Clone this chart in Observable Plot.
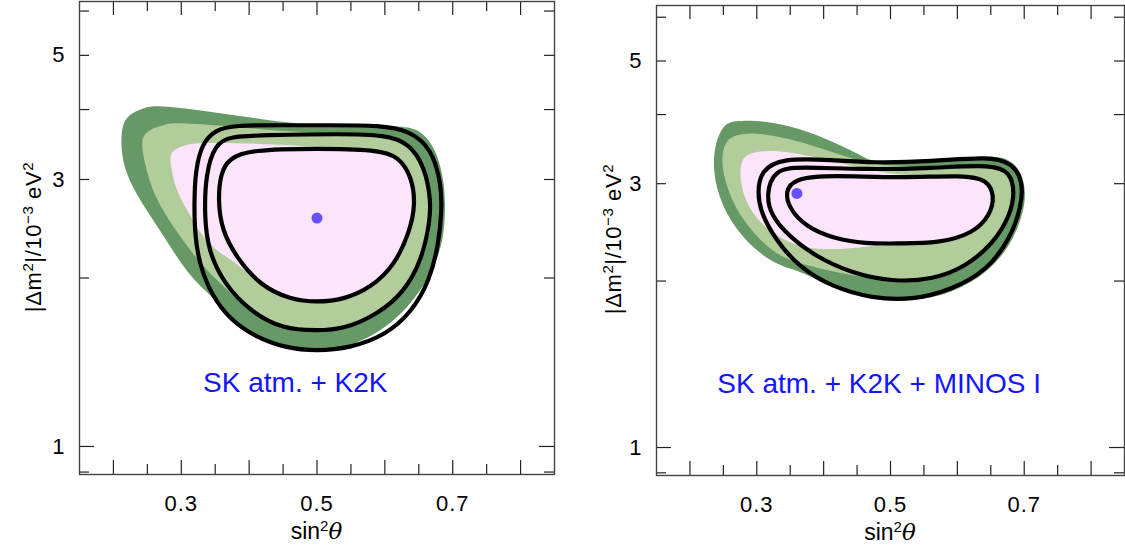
<!DOCTYPE html>
<html><head><meta charset="utf-8">
<script src="https://cdn.jsdelivr.net/npm/d3@7"></script>
<script src="https://cdn.jsdelivr.net/npm/@observablehq/plot@0.6"></script>
<style>
body{margin:0;background:#fff;}
#wrap{display:flex;width:1125px;height:552px;overflow:hidden;}
</style></head><body><div id="wrap"></div>
<script>
// ---- axis data ----
const xTicksMajor = [0.2, 0.3, 0.4, 0.5, 0.6, 0.7, 0.8];
const xTicksMinor = [0.25, 0.35, 0.45, 0.55, 0.65, 0.75];
const xTickLabels = [0.3, 0.5, 0.7];
const yTicksMajor = [1];
const yTicksMinor = [0.9, 2, 3, 4, 5, 6];
const yTickLabels = [1, 3, 5];
const panelLabels = ["SK atm. + K2K", "SK atm. + K2K + MINOS I"];

// ---- left panel: SK atm + K2K (sin^2 theta, |dm^2| in 1e-3 eV^2) ----
const leftBest = [[0.5, 2.56]];
const leftDark = [[0.244,4.02],[0.259,4.08],[0.328,3.99],[0.402,3.87],[0.475,3.76],[0.549,3.74],[0.627,3.74],[0.652,3.68],[0.675,3.42],[0.689,2.95],[0.689,2.50],[0.682,2.22],[0.659,1.94],[0.625,1.72],[0.579,1.56],[0.520,1.475],[0.460,1.485],[0.405,1.565],[0.372,1.72],[0.335,1.90],[0.306,2.06],[0.269,2.43],[0.239,2.75],[0.218,3.08],[0.211,3.38],[0.212,3.74],[0.222,3.92]];
const leftLight = [[0.250,3.67],[0.276,3.77],[0.298,3.79],[0.376,3.73],[0.446,3.66],[0.520,3.62],[0.600,3.61],[0.636,3.50],[0.660,3.16],[0.670,2.75],[0.669,2.50],[0.656,2.13],[0.631,1.88],[0.590,1.71],[0.539,1.615],[0.500,1.60],[0.450,1.615],[0.402,1.73],[0.365,1.92],[0.338,2.06],[0.309,2.27],[0.269,2.67],[0.252,2.99],[0.242,3.38],[0.242,3.56]];
const leftPink = [[0.286,3.38],[0.309,3.48],[0.338,3.49],[0.416,3.48],[0.500,3.43],[0.589,3.39],[0.620,3.30],[0.640,3.03],[0.645,2.70],[0.637,2.43],[0.615,2.11],[0.579,1.92],[0.539,1.83],[0.500,1.81],[0.461,1.83],[0.416,1.94],[0.382,2.13],[0.350,2.24],[0.328,2.40],[0.309,2.64],[0.292,2.87],[0.285,3.15],[0.283,3.28]];
const leftOuter = [[0.319,2.75],[0.321,3.11],[0.330,3.47],[0.350,3.68],[0.379,3.75],[0.446,3.75],[0.520,3.75],[0.593,3.75],[0.636,3.67],[0.669,3.41],[0.683,2.95],[0.684,2.64],[0.679,2.29],[0.666,1.98],[0.640,1.74],[0.601,1.58],[0.549,1.50],[0.500,1.48],[0.453,1.50],[0.409,1.57],[0.372,1.685],[0.345,1.86],[0.327,2.11],[0.320,2.38]];
const leftMid = [[0.334,2.57],[0.336,3.08],[0.350,3.47],[0.372,3.58],[0.420,3.60],[0.539,3.62],[0.600,3.60],[0.635,3.49],[0.659,3.16],[0.668,2.75],[0.666,2.50],[0.654,2.15],[0.629,1.89],[0.589,1.72],[0.539,1.62],[0.500,1.61],[0.450,1.62],[0.402,1.74],[0.362,1.96],[0.340,2.24]];
const leftInner = [[0.354,2.75],[0.358,3.08],[0.370,3.27],[0.402,3.39],[0.500,3.41],[0.589,3.39],[0.620,3.30],[0.640,3.03],[0.645,2.70],[0.637,2.43],[0.615,2.11],[0.579,1.92],[0.539,1.83],[0.500,1.81],[0.461,1.83],[0.416,1.94],[0.382,2.17],[0.360,2.43]];

// ---- right panel: SK atm + K2K + MINOS I ----
const rightBest = [[0.36, 2.88]];
const rightDark = [[0.252,3.88],[0.274,3.90],[0.313,3.90],[0.363,3.78],[0.413,3.58],[0.463,3.34],[0.473,3.28],[0.562,3.30],[0.652,3.38],[0.679,3.32],[0.696,3.15],[0.703,2.89],[0.698,2.63],[0.679,2.31],[0.644,2.065],[0.592,1.90],[0.532,1.835],[0.473,1.847],[0.413,1.95],[0.363,2.09],[0.338,2.12],[0.303,2.245],[0.272,2.45],[0.247,2.74],[0.234,3.15],[0.237,3.55]];
const rightLight = [[0.274,3.70],[0.308,3.70],[0.358,3.60],[0.433,3.36],[0.468,3.25],[0.562,3.20],[0.652,3.25],[0.679,3.15],[0.686,2.89],[0.679,2.63],[0.654,2.34],[0.612,2.12],[0.562,2.01],[0.502,1.995],[0.443,2.045],[0.388,2.115],[0.353,2.17],[0.323,2.26],[0.291,2.47],[0.267,2.72],[0.252,3.04],[0.247,3.30],[0.252,3.60]];
const rightPink = [[0.277,3.36],[0.299,3.43],[0.333,3.45],[0.383,3.36],[0.423,3.27],[0.468,3.18],[0.512,3.10],[0.612,3.11],[0.644,3.05],[0.656,2.855],[0.649,2.63],[0.624,2.44],[0.572,2.34],[0.512,2.34],[0.453,2.30],[0.413,2.28],[0.373,2.29],[0.333,2.39],[0.301,2.57],[0.282,2.80],[0.274,3.08]];
const rightOuter = [[0.306,3.17],[0.338,3.34],[0.413,3.31],[0.473,3.27],[0.562,3.29],[0.647,3.36],[0.683,3.27],[0.698,3.02],[0.696,2.74],[0.679,2.38],[0.644,2.09],[0.592,1.93],[0.532,1.847],[0.473,1.86],[0.413,1.95],[0.363,2.12],[0.328,2.375],[0.306,2.66],[0.301,2.89]];
const rightMid = [[0.326,3.18],[0.363,3.22],[0.463,3.18],[0.562,3.20],[0.652,3.25],[0.679,3.15],[0.686,2.89],[0.679,2.63],[0.654,2.34],[0.612,2.12],[0.562,2.01],[0.502,1.995],[0.443,2.065],[0.388,2.215],[0.348,2.41],[0.321,2.63],[0.314,2.87]];
const rightInner = [[0.356,3.07],[0.413,3.11],[0.512,3.07],[0.612,3.11],[0.644,3.05],[0.656,2.855],[0.649,2.63],[0.624,2.44],[0.572,2.34],[0.512,2.34],[0.463,2.335],[0.413,2.39],[0.373,2.51],[0.349,2.70],[0.342,2.90]];

const C = {dark: "#669966", light: "#b3cc9c", pink: "#fce4fb", dot: "#6650ff", text: "#1414ff", frame: "#444"};
const FONT = "Liberation Sans, Arial, Helvetica, sans-serif";
const X = d => d[0], Y = d => d[1];

function panel(o) {
  const H = 552;
  const iw = o.width - o.marginLeft - o.marginRight;
  const ih = H - o.marginTop - o.marginBottom;
  const fillMark = (data, fill) => Plot.line(data, {x: X, y: Y, fill, stroke: "none", curve: "basis-closed"});
  const lineMark = data => Plot.line(data, {x: X, y: Y, stroke: "#000", strokeWidth: 4.2, curve: "basis-closed"});
  const tickStyle = {stroke: "#222", strokeWidth: 1.2};
  const svg = Plot.plot({
    width: o.width, height: H,
    marginLeft: o.marginLeft, marginRight: o.marginRight, marginTop: o.marginTop, marginBottom: o.marginBottom,
    style: {fontFamily: FONT, fontSize: "22px", color: "#000", background: "#fff", overflow: "visible"},
    x: {domain: [0.15, 0.85]},
    y: {type: "log", domain: o.yDomain},
    marks: [
      fillMark(o.dark, C.dark),
      fillMark(o.light, C.light),
      fillMark(o.pink, C.pink),
      lineMark(o.outer), lineMark(o.mid), lineMark(o.inner),
      Plot.dot(o.best, {x: X, y: Y, r: 5.5, fill: C.dot, stroke: "none"}),
      Plot.text([o.label], {x: o.labelX, y: o.labelY, text: d => d, fill: C.text, fontSize: 28, fontFamily: FONT}),
      // inward ticks on all four sides
      Plot.tickX(xTicksMajor, {x: d => d, insetTop: ih - 14, ...tickStyle}),
      Plot.tickX(xTicksMinor, {x: d => d, insetTop: ih - 10, ...tickStyle}),
      Plot.tickX(xTicksMajor, {x: d => d, insetBottom: ih - 14, ...tickStyle}),
      Plot.tickX(xTicksMinor, {x: d => d, insetBottom: ih - 10, ...tickStyle}),
      Plot.tickY(yTicksMajor, {y: d => d, insetRight: iw - 15, ...tickStyle}),
      Plot.tickY(yTicksMinor, {y: d => d, insetRight: iw - 10, ...tickStyle}),
      Plot.tickY(yTicksMajor, {y: d => d, insetLeft: iw - 15, ...tickStyle}),
      Plot.tickY(yTicksMinor, {y: d => d, insetLeft: iw - 10, ...tickStyle}),
      Plot.frame({stroke: C.frame, strokeWidth: 1.4}),
      Plot.axisX({ticks: xTickLabels, tickSize: 0, tickPadding: 21, label: null, fontSize: 22, tickFormat: d => String(d)}),
      Plot.axisY({ticks: yTickLabels, tickSize: 0, tickPadding: 15, label: null, fontSize: 22, tickFormat: d => String(d)})
    ]
  });
  const s = d3.select(svg);
  s.selectAll('g[aria-label="x-axis tick label"]').attr("letter-spacing", 1);
  // y-axis title
  const yt = s.append("text")
    .attr("transform", `translate(${o.ylabX},${o.ylabY}) rotate(-90)`)
    .attr("text-anchor", "middle").attr("font-size", 22).attr("letter-spacing", 0.6).attr("fill", "#000").attr("font-family", FONT);
  yt.append("tspan").text("|Δm");
  yt.append("tspan").attr("baseline-shift", "super").attr("font-size", 15).text("2");
  yt.append("tspan").text("|/10");
  yt.append("tspan").attr("baseline-shift", "super").attr("font-size", 15).text("−3");
  yt.append("tspan").text(" eV");
  yt.append("tspan").attr("baseline-shift", "super").attr("font-size", 15).text("2");
  // x-axis title
  const xt = s.append("text")
    .attr("x", o.marginLeft + iw / 2).attr("y", o.xlabY)
    .attr("text-anchor", "middle").attr("font-size", 23).attr("fill", "#000").attr("font-family", FONT);
  xt.append("tspan").text("sin");
  xt.append("tspan").attr("baseline-shift", "super").attr("font-size", 15).text("2");
  xt.append("tspan").attr("font-style", "italic").attr("font-family", "DejaVu Serif, serif").text("θ");
  return svg;
}

const wrap = document.getElementById("wrap");
wrap.appendChild(panel({
  width: 560, marginLeft: 79, marginRight: 6, marginTop: 1, marginBottom: 78,
  yDomain: [0.891, 6.24],
  dark: leftDark, light: leftLight, pink: leftPink,
  outer: leftOuter, mid: leftMid, inner: leftInner, best: leftBest,
  label: panelLabels[0], labelX: 0.468, labelY: 1.30,
  ylabX: 41, ylabY: 237, xlabY: 539
}));
wrap.appendChild(panel({
  width: 565, marginLeft: 96, marginRight: 1, marginTop: 5, marginBottom: 77,
  yDomain: [0.89, 6.3],
  dark: rightDark, light: rightLight, pink: rightPink,
  outer: rightOuter, mid: rightMid, inner: rightInner, best: rightBest,
  label: panelLabels[1], labelX: 0.483, labelY: 1.30,
  ylabX: 61, ylabY: 239, xlabY: 540
}));
</script></body></html>
